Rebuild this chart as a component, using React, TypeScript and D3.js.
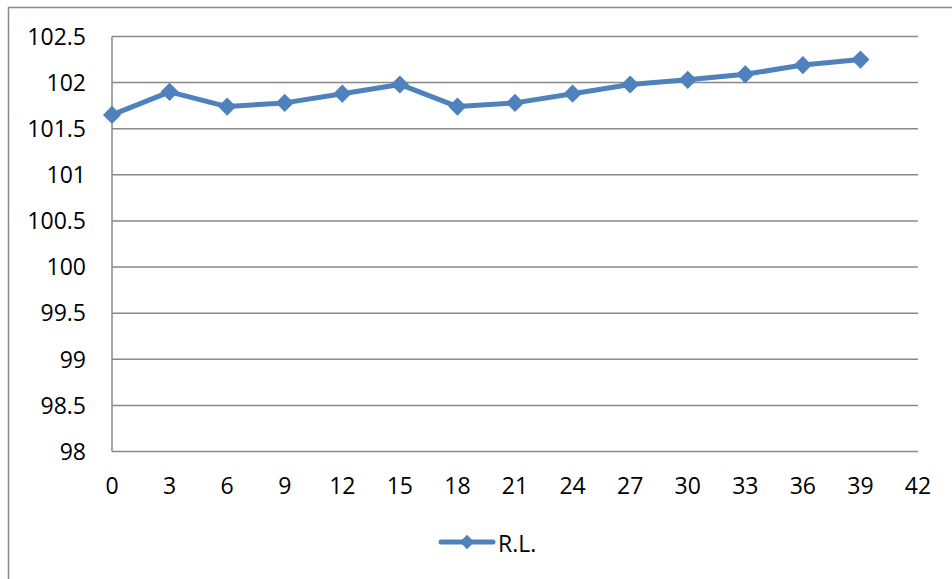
import { useEffect, useRef } from "react";
import * as d3 from "d3";

const distances = [0, 3, 6, 9, 12, 15, 18, 21, 24, 27, 30, 33, 36, 39];
const levels = [101.65, 101.9, 101.74, 101.78, 101.88, 101.98, 101.74, 101.78, 101.88, 101.98, 102.03, 102.09, 102.19, 102.25];
const xTicks = [0, 3, 6, 9, 12, 15, 18, 21, 24, 27, 30, 33, 36, 39, 42];
const yTicks = [98, 98.5, 99, 99.5, 100, 100.5, 101, 101.5, 102, 102.5];
const seriesName = "R.L.";

const W = 952;
const H = 579;
const FONT = "'Open Sans', 'Liberation Sans', sans-serif";
const BLUE = "#4f81bd";
const GRID = "#898989";

export default function App(): JSX.Element {
  const ref = useRef<SVGSVGElement | null>(null);

  useEffect(() => {
    if (!ref.current) return;
    const svg = d3.select(ref.current);
    svg.selectAll("*").remove();

    const left = 112;
    const right = 918;
    const top = 36.5;
    const bottom = 451.5;

    const x = d3.scaleLinear().domain([0, 42]).range([left, right]);
    const y = d3.scaleLinear().domain([98, 102.5]).range([bottom, top]);

    // chart frame (runs off the picture to the right and bottom)
    svg
      .append("rect")
      .attr("x", 8.5)
      .attr("y", 7.5)
      .attr("width", 1000)
      .attr("height", 700)
      .attr("fill", "#fff")
      .attr("stroke", GRID)
      .attr("stroke-width", 1.5);

    // horizontal gridlines
    svg
      .append("g")
      .selectAll("line")
      .data(yTicks)
      .join("line")
      .attr("x1", left)
      .attr("x2", right)
      .attr("y1", (d) => y(d))
      .attr("y2", (d) => y(d))
      .attr("stroke", GRID)
      .attr("stroke-width", 1.5);

    // vertical axis line
    svg
      .append("line")
      .attr("x1", left)
      .attr("x2", left)
      .attr("y1", top)
      .attr("y2", bottom)
      .attr("stroke", GRID)
      .attr("stroke-width", 1.5);

    // y labels
    svg
      .append("g")
      .selectAll("text")
      .data(yTicks)
      .join("text")
      .attr("x", 86)
      .attr("y", (d) => y(d))
      .attr("dy", "0.36em")
      .attr("text-anchor", "end")
      .attr("font-family", FONT)
      .attr("font-size", 23)
      .attr("fill", "#000")
      .text((d) => String(d));

    // x labels
    svg
      .append("g")
      .selectAll("text")
      .data(xTicks)
      .join("text")
      .attr("x", (d) => x(d))
      .attr("y", 494)
      .attr("text-anchor", "middle")
      .attr("font-family", FONT)
      .attr("font-size", 23)
      .attr("fill", "#000")
      .text((d) => String(d));

    const pts = distances.map((d, i) => [d, levels[i]] as [number, number]);
    const line = d3
      .line<[number, number]>()
      .x((d) => x(d[0]))
      .y((d) => y(d[1]));

    svg
      .append("path")
      .datum(pts)
      .attr("d", line)
      .attr("fill", "none")
      .attr("stroke", BLUE)
      .attr("stroke-width", 5)
      .attr("stroke-linejoin", "round");

    const diamond = d3.symbol().type(d3.symbolDiamond2).size(210);
    svg
      .append("g")
      .selectAll("path")
      .data(pts)
      .join("path")
      .attr("transform", (d) => `translate(${x(d[0])},${y(d[1])})`)
      .attr("d", diamond)
      .attr("fill", BLUE);

    // legend
    const lg = svg.append("g").attr("transform", "translate(439,542)");
    lg.append("line")
      .attr("x1", 2)
      .attr("x2", 54)
      .attr("stroke", BLUE)
      .attr("stroke-width", 5)
      .attr("stroke-linecap", "round");
    lg.append("path")
      .attr("transform", "translate(28,0)")
      .attr("d", d3.symbol().type(d3.symbolDiamond2).size(130))
      .attr("fill", BLUE);
    lg.append("text")
      .attr("x", 59)
      .attr("y", 10)
      .attr("font-family", FONT)
      .attr("font-size", 23)
      .attr("fill", "#000")
      .text(seriesName);
  }, []);

  return (
    <svg
      ref={ref}
      width={W}
      height={H}
      style={{ position: "absolute", left: 0, top: 0, background: "#fff" }}
    />
  );
}
